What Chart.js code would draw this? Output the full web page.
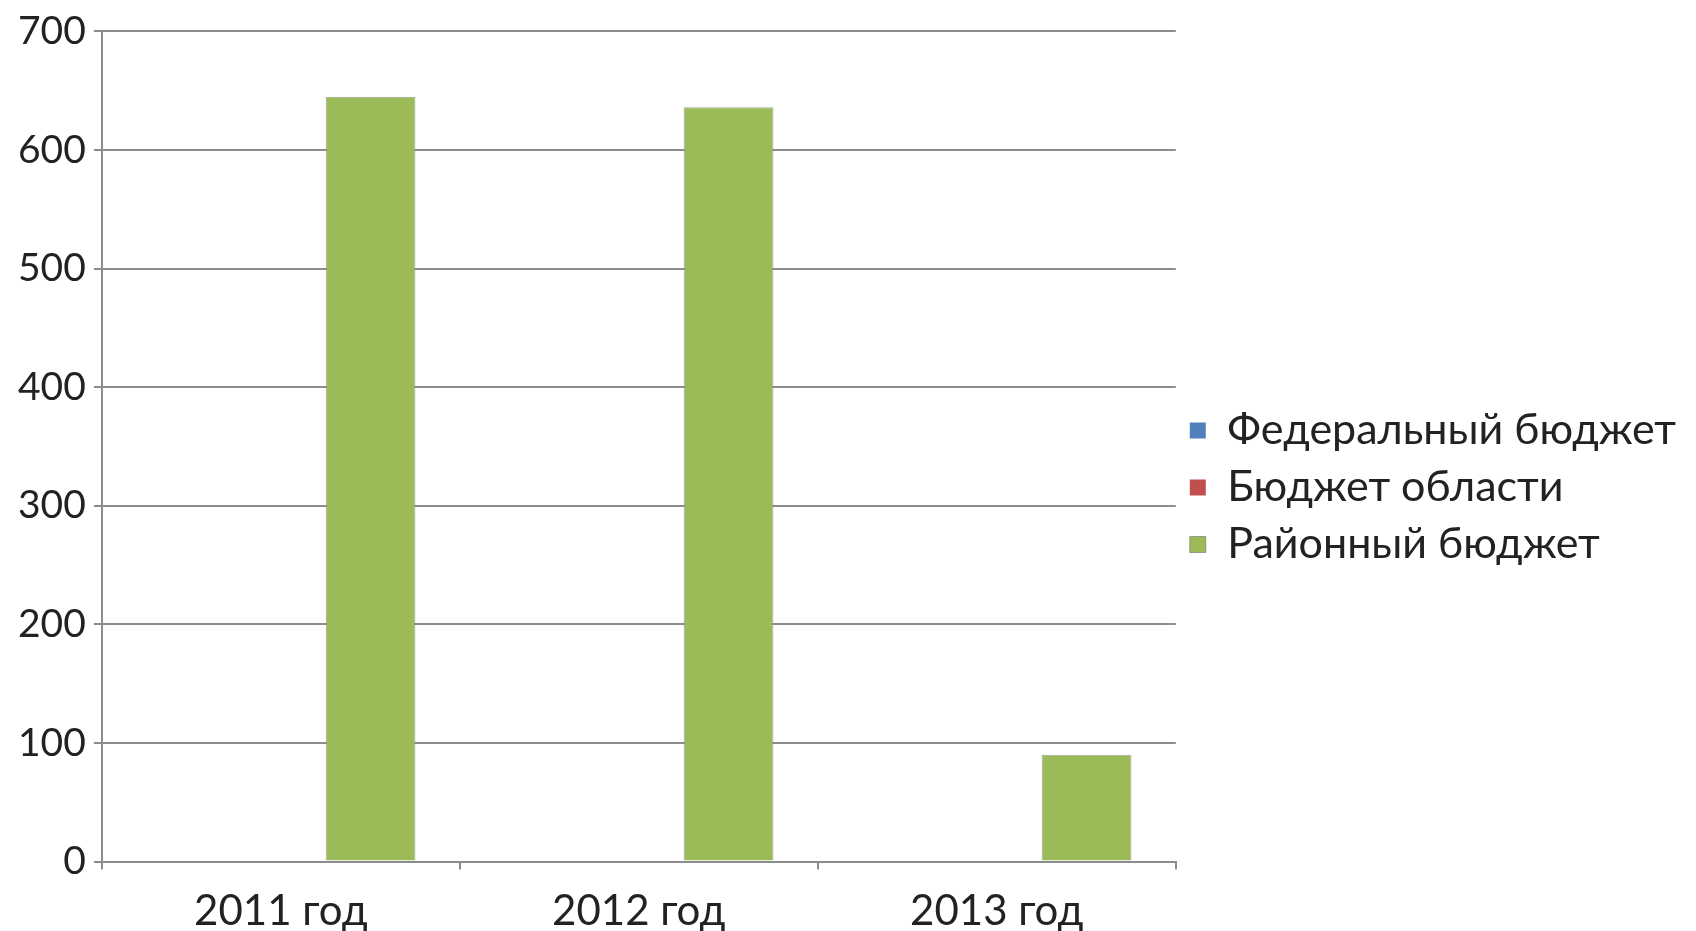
<!DOCTYPE html>
<html>
<head>
<meta charset="utf-8">
<script src="https://cdn.jsdelivr.net/npm/chart.js@4"></script>
<style>
  html, body { margin: 0; padding: 0; background: #fff; }
  #wrap { width: 1696px; height: 931px; }
</style>
</head>
<body>
<div id="wrap"><canvas id="budgetChart"></canvas></div>
<script>
const years = ['2011 год', '2012 год', '2013 год'];
const federal = [0, 0, 0];
const regional = [0, 0, 0];
const district = [645, 636, 90];

const gridColor = '#8c8c8c';
const fontFamily = "Lato, sans-serif";

function drawChart() {
    const ctx = document.getElementById('budgetChart');
    new Chart(ctx, {
        type: 'bar',
        data: {
            labels: years,
            datasets: [
                { label: 'Федеральный бюджет', data: federal, backgroundColor: '#4f81bd', borderColor: '#4f81bd' },
                { label: 'Бюджет области', data: regional, backgroundColor: '#c0504d', borderColor: '#c0504d' },
                { label: 'Районный бюджет', data: district, backgroundColor: '#9bbb59', borderColor: 'rgba(120,130,110,0.7)', borderWidth: 1 }
            ]
        },
        options: {
            responsive: true,
            maintainAspectRatio: false,
            animation: false,
            datasets: {
                bar: { categoryPercentage: 0.752, barPercentage: 1 }
            },
            layout: { padding: { top: 21, left: 10, right: 10, bottom: -23 } },
            scales: {
                x: {
                    grid: { drawOnChartArea: false, drawTicks: true, tickLength: 8, color: gridColor, lineWidth: 2 },
                    border: { color: gridColor, width: 2 },
                    ticks: { color: '#222', font: { family: fontFamily, size: 42 }, padding: 17 }
                },
                y: {
                    min: 0,
                    max: 700,
                    ticks: { stepSize: 100, color: '#222', font: { family: fontFamily, size: 39 }, padding: 8 },
                    grid: { color: gridColor, lineWidth: 2, tickLength: 8 },
                    border: { color: gridColor, width: 2 }
                }
            },
            plugins: {
                legend: {
                    position: 'right',
                    maxWidth: 600,
                    labels: {
                        color: '#222',
                        font: { family: fontFamily, size: 43 },
                        boxWidth: 16,
                        boxHeight: 16,
                        padding: 14
                    }
                },
                tooltip: { enabled: false }
            }
        }
    });
}

document.fonts.load('40px Lato').then(drawChart, drawChart);
</script>
</body>
</html>
